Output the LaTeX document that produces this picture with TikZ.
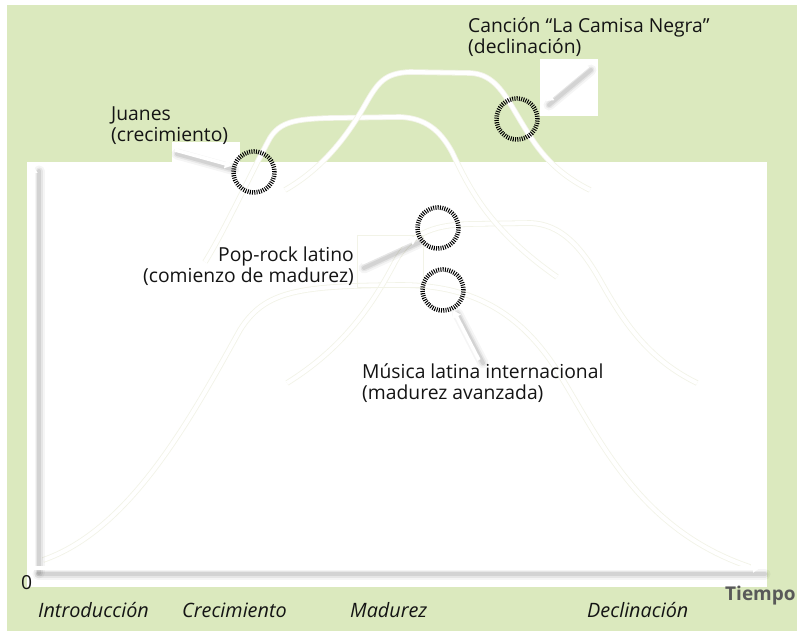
\documentclass[tikz,border=0pt]{standalone}
\usepackage{fontspec}
\setmainfont{Open Sans}
\usetikzlibrary{arrows.meta}
\definecolor{bggreen}{RGB}{219,233,190}
\definecolor{faintline}{RGB}{242,243,231}
\definecolor{inkc}{RGB}{20,20,20}
\newcommand\myshadow[4]{%
  \draw[sha] ([xshift=#1pt,yshift=-#2pt]#3) -- ([xshift=#1pt,yshift=-#2pt]#4);
  \draw[shb] ([xshift=#1pt,yshift=-#2pt]#3) -- ([xshift=#1pt,yshift=-#2pt]#4);
  \draw[shc] ([xshift=#1pt,yshift=-#2pt]#3) -- ([xshift=#1pt,yshift=-#2pt]#4);}
\begin{document}
\begin{tikzpicture}[x=1pt,y=-1pt,
  lifecurve/.style={draw=faintline, line width=0.8pt, double=white, double distance=4pt},
  ring/.style={circle, draw=black, line width=4.5pt, dash pattern=on 1pt off 1.25pt,
    minimum size=41pt, inner sep=0pt, outer sep=2.5pt},
  sha/.style={draw=black, draw opacity=0.04, line width=11pt, line cap=round},
  shb/.style={draw=black, draw opacity=0.06, line width=7pt, line cap=round},
  shc/.style={draw=black, draw opacity=0.08, line width=4pt, line cap=round},
  warrow/.style={draw=white, line width=3.5pt, -{Triangle[width=9pt,length=7pt]}},
  lbl/.style={font=\fontsize{19.3}{21}\selectfont, text=inkc, inner sep=0pt},
  phase/.style={font=\itshape\fontsize{19.8}{21}\selectfont, text=inkc, inner sep=0pt, anchor=base west},
  callbox/.style={fill=white, draw=none}]
\useasboundingbox (0,0) rectangle (797,631);
\fill[white] (0,0) rectangle (797,631);
\fill[bggreen] (7,5) rectangle (797,631);
\fill[white] (27,162) rectangle (767,587);

% life-cycle curves
\draw[lifecurve] (43,560) .. controls (130,530) and (190,420) .. (240,330)
  .. controls (265,290) and (300,286) .. (400,285)
  .. controls (470,285) and (520,310) .. (560,375)
  .. controls (600,440) and (640,530) .. (750,567);
\draw[lifecurve] (287,383) .. controls (340,350) and (370,310) .. (395,262)
  .. controls (410,235) and (430,225) .. (470,224) -- (530,223)
  .. controls (560,224) and (580,245) .. (600,280)
  .. controls (625,325) and (650,360) .. (697,383);
\draw[lifecurve] (205,262) .. controls (225,230) and (255,165) .. (270,138)
  .. controls (280,122) and (295,119) .. (330,118) -- (400,117)
  .. controls (425,118) and (440,130) .. (452,152)
  .. controls (470,190) and (490,230) .. (557,277);
\draw[lifecurve] (285,190) .. controls (320,170) and (345,140) .. (365,105)
  .. controls (378,82) and (385,73) .. (410,72) -- (470,73)
  .. controls (495,74) and (505,95) .. (520,120)
  .. controls (535,145) and (550,170) .. (590,190);

% callout backgrounds
\fill[callbox] (172,142) rectangle (240,163);
\fill[callbox] (540,59) rectangle (598,116);
\draw[faintline, line width=0.8pt] (357,235) rectangle (423,287);

% axes
\coordinate (o) at (33,568);
\coordinate (ytop) at (33,166);
\coordinate (xend) at (760,568);
\myshadow{6}{5}{o}{ytop}
\myshadow{5}{6}{o}{xend}
\draw[warrow] (o) -- (ytop);
\draw[warrow] (o) -- (xend);

% circles
\node[ring] (cJ) at (254,172) {};
\node[ring] (cC) at (517,119) {};
\node[ring] (cP) at (438,228) {};
\node[ring] (cM) at (443,290) {};

% callout arrows
\coordinate (aJ) at (175,150);
\coordinate (aC) at (588,66);
\coordinate (hC) at (546,101);
\coordinate (aP) at (362,263);
\coordinate (aM) at (479,360);
\myshadow{2}{4}{aJ}{cJ.164}
\myshadow{3}{4}{aC}{hC}
\myshadow{2}{5}{aP}{cP.205}
\myshadow{4}{3}{aM}{cM.297}
\draw[warrow] (aJ) -- (cJ.164);
\draw[warrow] (aC) -- (hC);
\draw[warrow] (aP) -- (cP.205);
\draw[warrow] (aM) -- (cM.297);

% labels
\node[lbl, anchor=north west, align=left] (tJ) at (111,107) {Juanes\\(crecimiento)};
\node[lbl, anchor=north west, align=left] (tC) at (468,18) {Canción “La Camisa Negra”\\(declinación)};
\node[lbl, anchor=north east, align=right] (tP) at (354,247) {Pop-rock latino\\(comienzo de madurez)};
\node[lbl, anchor=north west, align=left] (tM) at (362,364) {Música latina internacional\\(madurez avanzada)};
\node[lbl, anchor=base west] (zero) at (21,589) {0};
\node[phase] (pI) at (38,617) {Introducción};
\node[phase] (pC) at (182,617) {Crecimiento};
\node[phase] (pM) at (350,617) {Madurez};
\node[phase] (pD) at (587,617) {Declinación};
\node[font=\bfseries\fontsize{19}{21}\selectfont, text=black!65, anchor=base west, inner sep=0pt] (tT) at (725,600) {Tiempo};
\end{tikzpicture}
\end{document}
